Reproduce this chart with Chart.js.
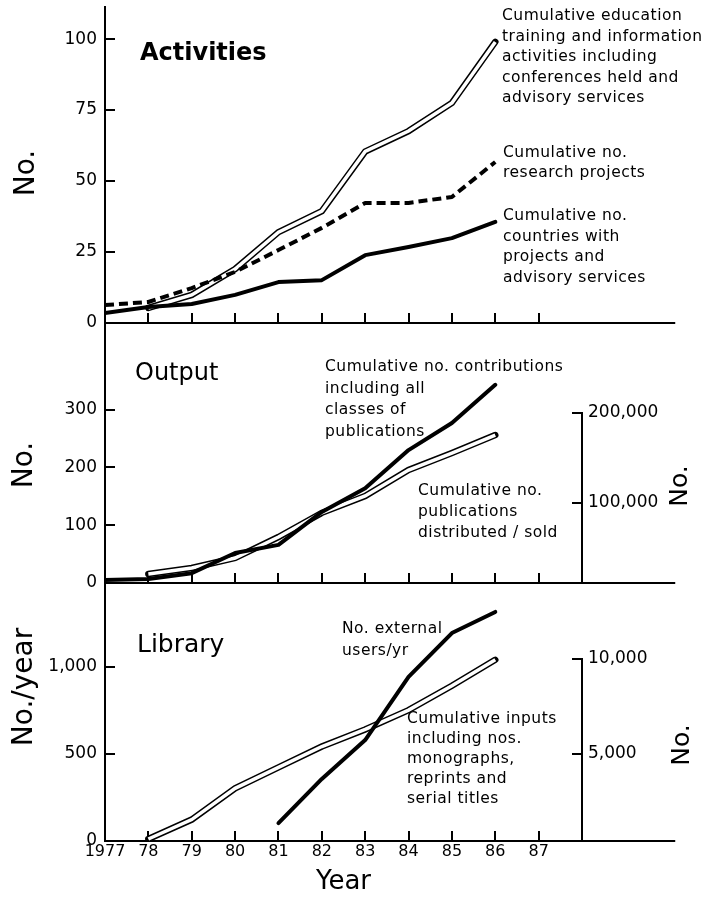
<!DOCTYPE html>
<html><head><meta charset="utf-8">
<script src="https://cdn.jsdelivr.net/npm/chart.js@4.4.1/dist/chart.umd.min.js"></script>
<style>
html,body{margin:0;padding:0;background:#fff}
#wrap{position:relative;width:711px;height:903px;overflow:hidden;background:#fff;font-family:'DejaVu Sans',sans-serif;color:#000}
canvas{position:absolute;left:0}
.note{position:absolute;font-size:15.5px;line-height:20.5px;white-space:nowrap;letter-spacing:0.5px}
.ptitle{position:absolute;font-size:24px;line-height:28px;white-space:nowrap}
.ax{position:absolute;white-space:nowrap;line-height:1;transform:translate(-50%,-50%) rotate(-90deg)}
</style></head><body>
<div id="wrap">
<canvas id="c1" width="711" height="330" style="top:0"></canvas>
<canvas id="c2" width="711" height="274" style="top:316px"></canvas>
<canvas id="c3" width="711" height="327" style="top:576px"></canvas>

<div class="ptitle" style="left:140px;top:38px;font-weight:bold">Activities</div>
<div class="ptitle" style="left:135px;top:358px">Output</div>
<div class="ptitle" style="left:137px;top:630px;font-size:25px">Library</div>

<div class="ax" style="left:25px;top:173px;font-size:28px">No.</div>
<div class="ax" style="left:23px;top:465px;font-size:28px">No.</div>
<div class="ax" style="left:23px;top:687px;font-size:28px">No./year</div>
<div class="ax" style="left:678px;top:486px;font-size:25px">No.</div>
<div class="ax" style="left:680px;top:745px;font-size:25px">No.</div>

<div class="note" style="left:502px;top:5px">Cumulative education<br>training and information<br>activities including<br>conferences held and<br>advisory services</div>
<div class="note" style="left:503px;top:142px;line-height:20px">Cumulative no.<br>research projects</div>
<div class="note" style="left:503px;top:205px">Cumulative no.<br>countries with<br>projects and<br>advisory services</div>
<div class="note" style="left:325px;top:356px;line-height:21.7px">Cumulative no. contributions<br>including all<br>classes of<br>publications</div>
<div class="note" style="left:418px;top:480px;line-height:21px">Cumulative no.<br>publications<br>distributed / sold</div>
<div class="note" style="left:342px;top:617px;line-height:22px">No. external<br>users/yr</div>
<div class="note" style="left:407px;top:708px;line-height:20px">Cumulative inputs<br>including nos.<br>monographs,<br>reprints and<br>serial titles</div>
</div>
<script>
// ---- data ----
const YEARS = [1977, 1978, 1979, 1980, 1981, 1982, 1983, 1984, 1985, 1986];
const TICK_YEARS = [1977, 1978, 1979, 1980, 1981, 1982, 1983, 1984, 1985, 1986, 1987];
const TICK_LABELS = ['1977', '78', '79', '80', '81', '82', '83', '84', '85', '86', '87'];

// Activities (No.)
const ACT_EDUCATION = [null, 5.3, 9.9, 19, 32, 39.4, 60.4, 67.6, 77.5, 99];
const ACT_RESEARCH  = [6.3, 7.4, 12.3, 18, 25.7, 33.5, 42.3, 42.3, 44.4, 56.7];
const ACT_COUNTRIES = [3.5, 5.6, 6.7, 9.9, 14.4, 15.1, 23.9, 26.8, 29.9, 35.6];
const ACT_TICKS = [0, 25, 50, 75, 100];

// Output
const OUT_CONTRIB = [5, 7, 17, 52, 66, 123, 164, 230, 277, 343];            // left axis, No.
const OUT_DISTRIB = [null, 21000, 27700, 38800, 62100, 89000, 107700, 136600, 155400, 175400]; // right axis, No.
const OUT_TICKS = [0, 100, 200, 300];
const OUT_RIGHT_TICKS = [100000, 200000];

// Library
const LIB_USERS  = [null, null, null, null, 103, 356, 579, 941, 1193, 1314]; // left axis, No./year
const LIB_INPUTS = [null, 505, 1530, 3175, 4280, 5380, 6280, 7300, 8585, 9950]; // right axis, No.
const LIB_TICKS = [0, 500, 1000];
const LIB_RIGHT_TICKS = [5000, 10000];

const X_AXIS_END = 1990.15;

// ---- helpers ----
const INK = '#000';
Chart.defaults.font.family = "'DejaVu Sans', sans-serif";
Chart.defaults.color = INK;
const fmt = v => String(v).replace(/\B(?=(\d{3})+(?!\d))/g, ',');
const pts = arr => YEARS.map((x, i) => ({x, y: arr[i]}));

function xScale(show, height, title) {
  return {
    type: 'linear', min: 1977, max: 1988,
    afterBuildTicks: s => { s.ticks = TICK_YEARS.map(v => ({value: v})); },
    afterFit: s => { s.height = height; s.paddingLeft = 0; s.paddingRight = 0; },
    grid: {drawOnChartArea: false, color: INK, lineWidth: 2, tickLength: -10},
    border: {color: INK, width: 2},
    ticks: {display: show, padding: 11, autoSkip: false, maxRotation: 0, color: INK,
      font: {size: 16}, callback: (v, i) => TICK_LABELS[i]},
    title: title ? {display: true, text: title, color: INK, font: {size: 26}, padding: {top: 0, bottom: 5}} : {display: false}
  };
}
function yLeft(min, max, ticks) {
  return {
    type: 'linear', position: 'left', min, max,
    afterBuildTicks: s => { s.ticks = ticks.map(v => ({value: v})); },
    afterFit: s => { s.width = 105; s.paddingTop = 0; s.paddingBottom = 0; },
    grid: {drawOnChartArea: false, color: INK, lineWidth: 2, tickLength: -10},
    border: {color: INK, width: 2},
    ticks: {padding: 18, color: INK, font: {size: 17}, callback: v => fmt(v)}
  };
}
function yRight(min, max, ticks) {
  return {
    type: 'linear', position: 'right', min, max,
    afterBuildTicks: s => { s.ticks = ticks.map(v => ({value: v})); },
    afterFit: s => { s.width = 129; s.paddingTop = 0; s.paddingBottom = 0; },
    grid: {drawOnChartArea: false, color: INK, lineWidth: 2, tickLength: -10},
    border: {display: false},
    ticks: {padding: 16, color: INK, font: {size: 17}, callback: v => fmt(v)}
  };
}
const solid = (data, axis) => ({data: pts(data), yAxisID: axis, borderColor: INK, borderWidth: 4,
  pointRadius: 0, tension: 0, order: 0, borderCapStyle: 'round', borderJoinStyle: 'round'});
const dashed = (data, axis) => ({...solid(data, axis), borderDash: [9, 5], borderCapStyle: 'butt'});
const doubleLine = (data, axis) => [
  {data: pts(data), yAxisID: axis, borderColor: INK, borderWidth: 6.5, pointRadius: 0, tension: 0,
   order: 2, borderCapStyle: 'round', borderJoinStyle: 'miter'},
  {data: pts(data), yAxisID: axis, borderColor: '#fff', borderWidth: 3.5, pointRadius: 0, tension: 0,
   order: 1, borderCapStyle: 'butt', borderJoinStyle: 'miter'}
];

const axisExtras = {
  id: 'axisExtras',
  afterDraw(chart) {
    const {ctx, chartArea, scales} = chart;
    const y0 = scales.x.top;
    ctx.save();
    ctx.strokeStyle = INK; ctx.lineWidth = 2; ctx.lineCap = 'butt';
    ctx.beginPath();
    ctx.moveTo(chartArea.right - 1, y0);
    ctx.lineTo(scales.x.getPixelForValue(X_AXIS_END), y0);
    if (scales.yR) {
      const t = scales.yR.ticks;
      const top = scales.yR.getPixelForValue(t[t.length - 1].value);
      ctx.moveTo(chartArea.right, y0 + 1);
      ctx.lineTo(chartArea.right, top - 1);
    }
    ctx.stroke();
    ctx.restore();
  }
};

function make(id, datasets, scales, padRight) {
  return new Chart(document.getElementById(id), {
    type: 'line',
    data: {datasets},
    options: {
      responsive: false, animation: false, devicePixelRatio: 1,
      layout: {padding: {top: 7, left: 0, bottom: 0, right: padRight}},
      plugins: {legend: {display: false}, tooltip: {enabled: false}},
      scales
    },
    plugins: [axisExtras]
  });
}

make('c1', [
  ...doubleLine(ACT_EDUCATION, 'y'),
  dashed(ACT_RESEARCH, 'y'),
  solid(ACT_COUNTRIES, 'y')
], {x: xScale(false, 7), y: yLeft(0, 111.3, ACT_TICKS)}, 129);

make('c2', [
  ...doubleLine(OUT_DISTRIB, 'yR'),
  solid(OUT_CONTRIB, 'y')
], {x: xScale(false, 7), y: yLeft(0, 450, OUT_TICKS), yR: yRight(11000, 300000, OUT_RIGHT_TICKS)}, 0);

make('c3', [
  ...doubleLine(LIB_INPUTS, 'yR'),
  solid(LIB_USERS, 'y')
], {x: xScale(true, 62, 'Year'), y: yLeft(0, 1480, LIB_TICKS), yR: yRight(400, 14000, LIB_RIGHT_TICKS)}, 0);
</script>
</body></html>
